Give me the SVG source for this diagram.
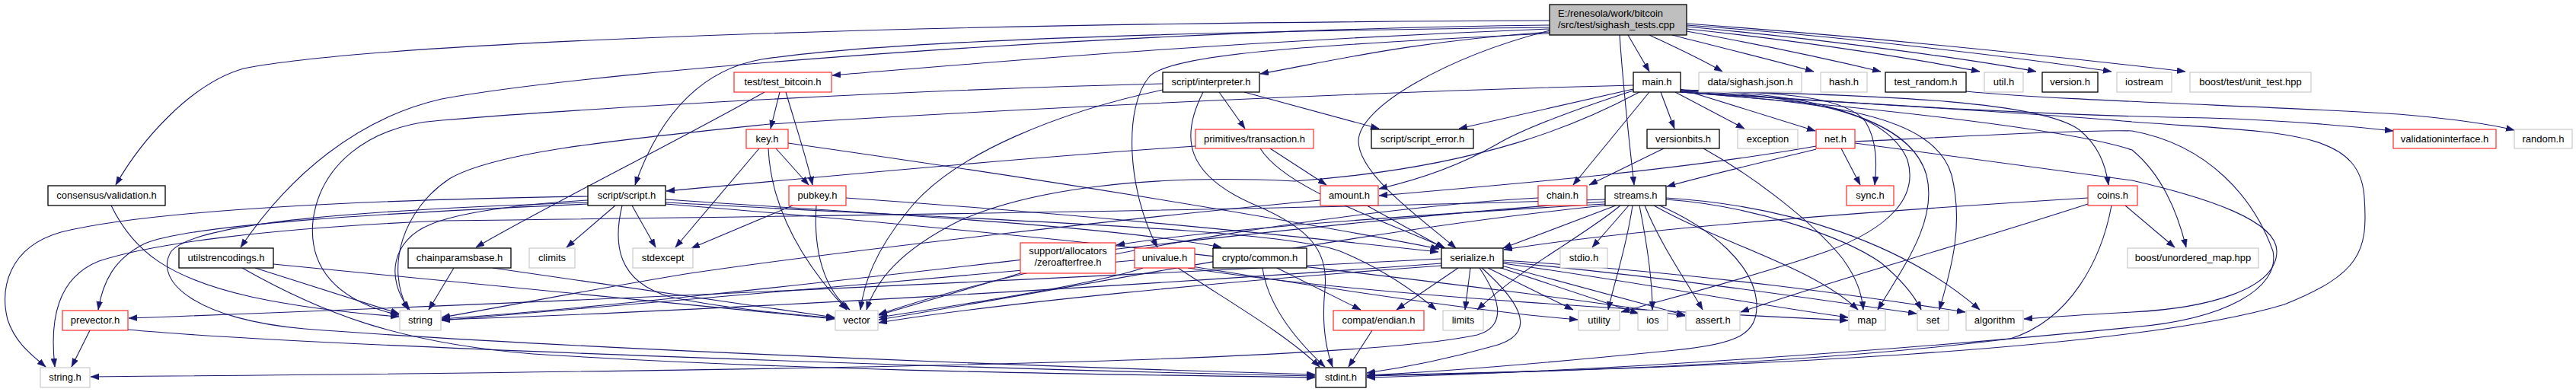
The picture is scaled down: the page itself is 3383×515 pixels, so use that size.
<svg xmlns="http://www.w3.org/2000/svg" width="3383" height="515" viewBox="0 0 3383 515">
<style>
.n rect{fill:#fff;stroke-width:1}
.b rect{stroke:#000;stroke-width:1.3}
.r rect{stroke:#ff0000}
.g rect{stroke:#bfbfbf}
.m rect{fill:#bfbfbf;stroke:#000;stroke-width:1.3}
text{font-family:"Liberation Sans",Arial,sans-serif;font-size:13px;fill:#000;text-anchor:middle}
.e path{fill:none;stroke:#191970;stroke-width:1.1;marker-end:url(#ah)}
</style>
<defs>
<marker id="ah" markerUnits="userSpaceOnUse" markerWidth="12" markerHeight="9" refX="11" refY="4" orient="auto">
<path d="M0,0 L11,4 L0,8 z" fill="#191970" stroke="#191970" stroke-width="0.5"/>
</marker>
</defs>
<rect width="3383" height="515" fill="#fff"/>
<g id="edges" class="e">
<path d="M2035,27 C1200,30 500,55 320,90 C250,110 185,185 152,243"/>
<path d="M2035,33 C1500,38 800,90 580,130 C470,155 380,230 316,325"/>
<path d="M2035,38 C1600,55 1300,82 1093,99"/>
<path d="M2035,36 C1500,42 1150,55 1000,78 C930,90 870,140 834,243"/>
<path d="M2035,42 C1850,55 1750,80 1655,97"/>
<path d="M2035,44 C1700,60 1540,72 1510,100 C1475,140 1480,250 1520,325"/>
<path d="M2035,40 C1900,75 1785,140 1784,185 C1784,230 1870,290 1912,326"/>
<path d="M2138,46 L2166,94"/>
<path d="M2127,46 C2132,120 2140,190 2146,243"/>
<path d="M2166,46 C2200,62 2235,78 2262,94"/>
<path d="M2196,46 C2270,65 2340,82 2382,94"/>
<path d="M2215,41 C2320,60 2420,82 2470,94"/>
<path d="M2215,38 C2380,55 2530,80 2600,94"/>
<path d="M2215,35 C2400,52 2590,78 2674,94"/>
<path d="M2215,33 C2420,48 2650,75 2773,94"/>
<path d="M2215,31 C2500,52 2750,80 2870,94"/>
<path d="M146,270 C175,330 220,365 330,390 C400,405 470,412 524,416"/>
<path d="M335,352 L524,412"/>
<path d="M359,347 L1096,419"/>
<path d="M318,352 C420,410 520,450 700,465 C1100,490 1500,492 1727,496"/>
<path d="M1024,121 L1012,169"/>
<path d="M1032,121 C1045,165 1060,210 1067,243"/>
<path d="M1004,121 C900,180 700,280 625,325"/>
<path d="M1019,195 L1062,243"/>
<path d="M997,195 L887,325"/>
<path d="M1009,195 C1012,260 1040,330 1112,407"/>
<path d="M1035,188 C1400,240 1700,290 1890,327"/>
<path d="M1041,270 L908,326"/>
<path d="M1072,270 C1068,330 1082,380 1116,407"/>
<path d="M1111,260 C1400,280 1700,310 1889,331"/>
<path d="M808,270 L744,325"/>
<path d="M830,270 L861,325"/>
<path d="M817,270 C805,320 810,370 880,390 C950,405 1030,412 1096,418"/>
<path d="M772,263 C680,268 600,280 565,295 C515,315 505,365 538,407"/>
<path d="M772,258 C500,262 200,275 80,305 C10,325 0,380 10,420 C20,450 40,465 60,482"/>
<path d="M772,266 C500,275 260,290 225,330 C200,370 260,420 400,432 C700,455 1300,480 1727,492"/>
<path d="M772,268 C500,280 250,295 190,320 C150,340 135,370 129,407"/>
<path d="M874,262 C1100,278 1450,295 1604,325"/>
<path d="M874,266 C1300,290 1680,300 1760,330 C1820,355 1860,385 1886,407"/>
<path d="M874,268 C1400,310 1800,360 2000,385 C2100,398 2170,408 2213,415"/>
<path d="M596,352 L563,407"/>
<path d="M647,352 L1096,417"/>
<path d="M118,434 L94,482"/>
<path d="M168,433 C400,455 1300,485 1727,494"/>
<path d="M1634,121 L1811,169"/>
<path d="M1601,121 L1635,169"/>
<path d="M1527,110 C1200,118 800,140 580,158 C480,165 420,220 411,290 C405,350 440,395 524,414"/>
<path d="M1527,118 C1400,145 1250,200 1190,280 C1150,330 1135,370 1130,407"/>
<path d="M1580,121 C1550,180 1555,230 1650,270 C1720,300 1745,330 1740,380 C1736,420 1740,455 1750,482"/>
<path d="M1668,195 L1742,243"/>
<path d="M1570,192 C1300,210 1000,240 875,251"/>
<path d="M1655,195 C1690,250 1820,290 1898,326"/>
<path d="M2145,117 L1916,169"/>
<path d="M2145,119 C2050,150 1990,175 1965,190 C1930,210 1880,232 1811,248"/>
<path d="M2166,121 L2066,243"/>
<path d="M2181,121 L2199,169"/>
<path d="M2200,121 L2291,169"/>
<path d="M2207,117 L2384,172"/>
<path d="M2145,112 C1800,120 1300,145 1011,163 C800,185 650,200 590,235 C530,275 505,350 536,407"/>
<path d="M2153,121 C2080,160 1950,220 1700,238 C1500,228 1350,250 1260,290 C1180,330 1150,370 1138,407"/>
<path d="M2207,118 C2300,122 2420,120 2450,160 C2465,185 2465,215 2462,243"/>
<path d="M2207,119 C2500,125 2680,135 2730,170 C2755,190 2765,215 2769,243"/>
<path d="M2207,120 C2400,125 2510,160 2530,230 C2545,290 2500,350 2466,407"/>
<path d="M2207,121 C2400,135 2540,150 2563,230 C2580,300 2560,360 2547,407"/>
<path d="M2207,118 C2380,122 2480,150 2505,210 C2520,260 2480,300 2400,330 C2300,365 2180,395 2129,410"/>
<path d="M2207,121 C2500,140 2700,150 2800,160 C3000,175 3100,170 3105,260 C3110,330 3100,360 3000,400 C2800,460 2300,482 1795,494"/>
<path d="M2207,121 C2450,140 2720,170 2800,197 C2840,230 2860,280 2871,325"/>
<path d="M2207,120 C2500,140 2700,152 2900,155 C3000,158 3080,165 3143,172"/>
<path d="M2582,120 C2700,132 3000,140 3150,150 C3220,156 3270,163 3302,171"/>
<path d="M2185,195 L2087,243"/>
<path d="M2237,195 C2300,230 2380,290 2420,340 C2438,365 2445,385 2447,407"/>
<path d="M2385,192 C2200,225 1950,245 1811,257"/>
<path d="M2385,196 C2320,212 2250,228 2189,245"/>
<path d="M2418,195 L2443,243"/>
<path d="M2436,186 C2600,178 2750,170 2800,172 C2900,190 2960,260 2985,330 C2995,380 2920,420 2800,430 C2500,460 2100,488 1795,496"/>
<path d="M2436,188 C2600,210 2750,230 2800,237 C2900,260 2990,290 2990,330 C2990,380 2900,405 2800,410 C2740,413 2700,416 2658,419"/>
<path d="M1795,270 L1896,326"/>
<path d="M1734,263 C1500,285 1100,330 900,360 C750,385 650,405 580,417"/>
<path d="M2020,260 C1800,272 1400,330 1154,413"/>
<path d="M2122,270 L1974,326"/>
<path d="M2139,270 L2091,325"/>
<path d="M2128,270 C2080,310 2000,350 1940,407"/>
<path d="M2144,270 C2135,330 2120,370 2112,407"/>
<path d="M2153,270 C2165,330 2170,370 2170,407"/>
<path d="M2160,270 C2180,320 2215,370 2236,407"/>
<path d="M2172,270 C2260,320 2380,350 2440,407"/>
<path d="M2188,262 C2300,270 2420,310 2470,345 C2500,370 2515,390 2523,407"/>
<path d="M2188,260 C2350,270 2500,320 2600,407"/>
<path d="M2175,268 C2250,300 2305,350 2307,400 C2308,440 2280,452 2200,460 C2050,475 1900,488 1795,493"/>
<path d="M2108,265 C1700,290 1000,390 580,419"/>
<path d="M2108,262 C1700,275 1000,285 580,290 C350,300 200,320 130,343 C75,365 65,420 72,482"/>
<path d="M2108,270 C1800,300 1400,380 1154,420"/>
<path d="M2108,268 C1900,280 1600,300 1466,322"/>
<path d="M2742,260 C2500,275 2150,300 1975,328"/>
<path d="M2742,268 C2550,330 2400,370 2286,410"/>
<path d="M2773,270 C2760,340 2720,420 2640,445 C2400,475 2100,488 1795,493"/>
<path d="M2791,270 L2856,325"/>
<path d="M1915,352 L1834,407"/>
<path d="M1931,352 L1924,407"/>
<path d="M1954,352 L2066,407"/>
<path d="M1965,350 L2152,412"/>
<path d="M1972,349 L2213,414"/>
<path d="M1974,346 C2150,370 2300,400 2427,417"/>
<path d="M1974,344 C2200,365 2400,395 2517,412"/>
<path d="M1974,342 C2250,360 2450,390 2581,410"/>
<path d="M1946,352 C2000,400 2020,440 1960,455 C1900,472 1850,482 1795,490"/>
<path d="M1893,346 C1500,375 900,410 580,420"/>
<path d="M1943,352 C1975,400 1975,430 1940,440 C1800,470 1300,485 119,495"/>
<path d="M1893,349 C1600,370 1300,400 1154,424"/>
<path d="M1893,340 C1500,360 800,395 169,418"/>
<path d="M1340,359 L1154,414"/>
<path d="M1501,352 C1450,370 1300,395 1154,417"/>
<path d="M1490,342 C1200,370 800,400 580,421"/>
<path d="M1547,352 C1620,400 1690,440 1733,482"/>
<path d="M1560,352 C1800,390 2200,410 2427,421"/>
<path d="M1565,350 C1750,380 1950,410 2072,420"/>
<path d="M1677,352 L1787,407"/>
<path d="M1658,352 C1665,400 1700,445 1740,482"/>
<path d="M1802,434 L1771,482"/>
</g>
<g id="main" class="n m"><rect x="2035" y="6" width="180" height="40"/><text x="2046" y="22" style="text-anchor:start">E:/renesola/work/bitcoin</text><text x="2046" y="37" style="text-anchor:start">/src/test/sighash_tests.cpp</text></g>
<g id="test_bitcoin" class="n r"><rect x="964" y="95" width="128" height="26"/><text x="1028" y="112">test/test_bitcoin.h</text></g>
<g id="interpreter" class="n b"><rect x="1527" y="95" width="127" height="26"/><text x="1590.5" y="112">script/interpreter.h</text></g>
<g id="main_h" class="n b"><rect x="2145" y="95" width="62" height="26"/><text x="2176" y="112">main.h</text></g>
<g id="sighash_json" class="n g"><rect x="2231" y="95" width="135" height="26"/><text x="2298.5" y="112">data/sighash.json.h</text></g>
<g id="hash" class="n g"><rect x="2391" y="95" width="61" height="26"/><text x="2421.5" y="112">hash.h</text></g>
<g id="test_random" class="n b"><rect x="2476" y="95" width="106" height="26"/><text x="2529" y="112">test_random.h</text></g>
<g id="util" class="n g"><rect x="2606" y="95" width="51" height="26"/><text x="2631.5" y="112">util.h</text></g>
<g id="version" class="n b"><rect x="2682" y="95" width="73" height="26"/><text x="2718.5" y="112">version.h</text></g>
<g id="iostream" class="n g"><rect x="2780" y="95" width="72" height="26"/><text x="2816" y="112">iostream</text></g>
<g id="unit_test" class="n g"><rect x="2876" y="95" width="159" height="26"/><text x="2955.5" y="112">boost/test/unit_test.hpp</text></g>
<g id="key" class="n r"><rect x="980" y="170" width="55" height="25"/><text x="1007.5" y="187">key.h</text></g>
<g id="transaction" class="n r"><rect x="1570" y="170" width="155" height="25"/><text x="1647.5" y="187">primitives/transaction.h</text></g>
<g id="script_error" class="n b"><rect x="1801" y="170" width="134" height="25"/><text x="1868" y="187">script/script_error.h</text></g>
<g id="versionbits" class="n b"><rect x="2163" y="170" width="95" height="25"/><text x="2210.5" y="187">versionbits.h</text></g>
<g id="exception" class="n g"><rect x="2282" y="170" width="79" height="25"/><text x="2321.5" y="187">exception</text></g>
<g id="net" class="n r"><rect x="2385" y="170" width="51" height="25"/><text x="2410.5" y="187">net.h</text></g>
<g id="validationinterface" class="n r"><rect x="3143" y="170" width="135" height="25"/><text x="3210.5" y="187">validationinterface.h</text></g>
<g id="random" class="n g"><rect x="3302" y="170" width="76" height="25"/><text x="3340" y="187">random.h</text></g>
<g id="consensus_validation" class="n b"><rect x="63" y="244" width="154" height="26"/><text x="140" y="261">consensus/validation.h</text></g>
<g id="script" class="n b"><rect x="772" y="244" width="102" height="26"/><text x="823" y="261">script/script.h</text></g>
<g id="pubkey" class="n r"><rect x="1036" y="244" width="75" height="26"/><text x="1073.5" y="261">pubkey.h</text></g>
<g id="amount" class="n r"><rect x="1734" y="244" width="76" height="26"/><text x="1772" y="261">amount.h</text></g>
<g id="chain" class="n r"><rect x="2020" y="244" width="64" height="26"/><text x="2052" y="261">chain.h</text></g>
<g id="streams" class="n b"><rect x="2108" y="244" width="80" height="26"/><text x="2148" y="261">streams.h</text></g>
<g id="sync" class="n r"><rect x="2425" y="244" width="62" height="26"/><text x="2456" y="261">sync.h</text></g>
<g id="coins" class="n r"><rect x="2742" y="244" width="65" height="26"/><text x="2774.5" y="261">coins.h</text></g>
<g id="utilstrencodings" class="n b"><rect x="235" y="326" width="124" height="26"/><text x="297" y="343">utilstrencodings.h</text></g>
<g id="chainparamsbase" class="n b"><rect x="536" y="326" width="135" height="26"/><text x="603.5" y="343">chainparamsbase.h</text></g>
<g id="climits" class="n g"><rect x="695" y="326" width="60" height="26"/><text x="725" y="343">climits</text></g>
<g id="stdexcept" class="n g"><rect x="831" y="326" width="79" height="26"/><text x="870.5" y="343">stdexcept</text></g>
<g id="zeroafterfree" class="n r"><rect x="1340" y="319" width="125" height="40"/><text x="1402.5" y="334">support/allocators</text><text x="1402.5" y="349">/zeroafterfree.h</text></g>
<g id="univalue" class="n r"><rect x="1490" y="326" width="79" height="26"/><text x="1529.5" y="343">univalue.h</text></g>
<g id="crypto_common" class="n b"><rect x="1593" y="326" width="123" height="26"/><text x="1654.5" y="343">crypto/common.h</text></g>
<g id="serialize" class="n b"><rect x="1893" y="326" width="81" height="26"/><text x="1933.5" y="343">serialize.h</text></g>
<g id="stdio" class="n g"><rect x="2049" y="326" width="62" height="26"/><text x="2080" y="343">stdio.h</text></g>
<g id="unordered_map" class="n g"><rect x="2794" y="326" width="172" height="26"/><text x="2880" y="343">boost/unordered_map.hpp</text></g>
<g id="prevector" class="n r"><rect x="82" y="408" width="86" height="26"/><text x="125" y="425">prevector.h</text></g>
<g id="string" class="n g"><rect x="525" y="408" width="54" height="26"/><text x="552" y="425">string</text></g>
<g id="vector" class="n g"><rect x="1097" y="408" width="56" height="26"/><text x="1125" y="425">vector</text></g>
<g id="endian" class="n r"><rect x="1751" y="408" width="119" height="26"/><text x="1810.5" y="425">compat/endian.h</text></g>
<g id="limits" class="n g"><rect x="1895" y="408" width="53" height="26"/><text x="1921.5" y="425">limits</text></g>
<g id="utility" class="n g"><rect x="2073" y="408" width="54" height="26"/><text x="2100" y="425">utility</text></g>
<g id="ios" class="n g"><rect x="2151" y="408" width="39" height="26"/><text x="2170.5" y="425">ios</text></g>
<g id="assert" class="n g"><rect x="2214" y="408" width="71" height="26"/><text x="2249.5" y="425">assert.h</text></g>
<g id="map" class="n g"><rect x="2428" y="408" width="48" height="26"/><text x="2452" y="425">map</text></g>
<g id="set" class="n g"><rect x="2518" y="408" width="41" height="26"/><text x="2538.5" y="425">set</text></g>
<g id="algorithm" class="n g"><rect x="2582" y="408" width="75" height="26"/><text x="2619.5" y="425">algorithm</text></g>
<g id="string_h" class="n g"><rect x="53" y="483" width="65" height="26"/><text x="85.5" y="500">string.h</text></g>
<g id="stdint" class="n b"><rect x="1728" y="483" width="66" height="26"/><text x="1761" y="500">stdint.h</text></g>
</svg>
